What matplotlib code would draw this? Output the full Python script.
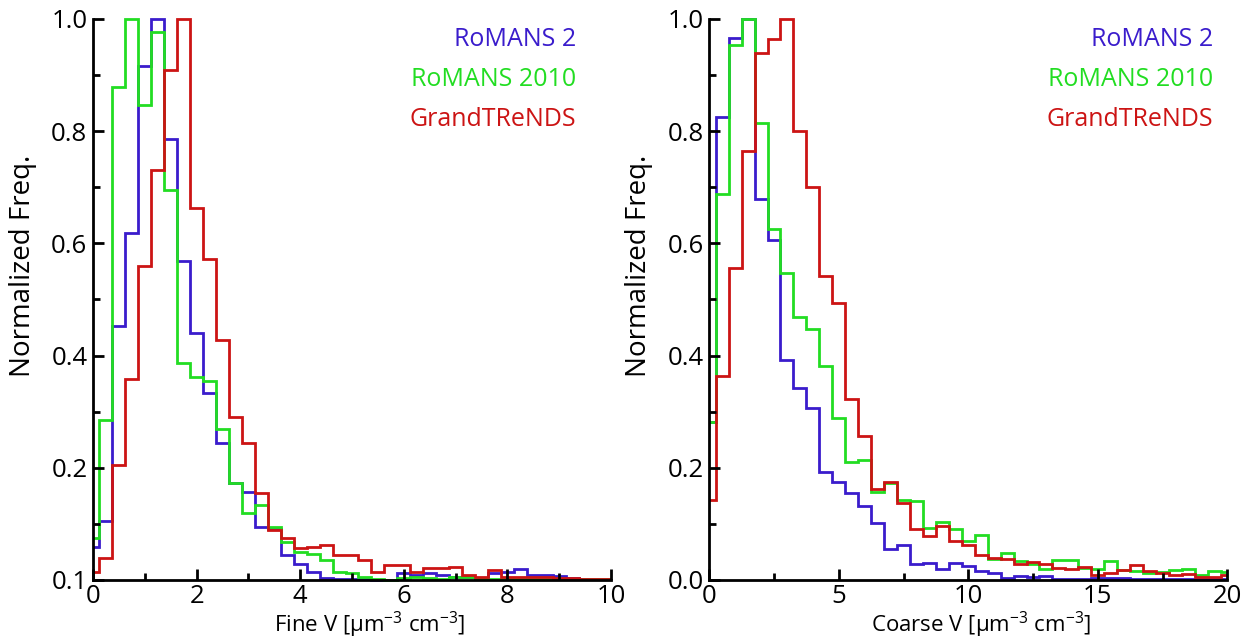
import numpy as np
import matplotlib.pyplot as plt
import matplotlib.ticker as ticker

plt.rcParams['font.family'] = ['Open Sans', 'DejaVu Sans']
plt.rcParams['mathtext.default'] = 'regular'

# --- data: normalized histogram values, one per bin (bins centred on 0, w, 2w, ...)
fine_bin_width = 0.25
fine_blue = [0.059, 0.106, 0.452, 0.618, 0.916, 1.0, 0.786, 0.569, 0.440, 0.334,
             0.245, 0.172, 0.156, 0.095, 0.090, 0.045, 0.029, 0.015, 0.003, 0.002,
             0.002, 0.001, 0.0, 0.0, 0.012, 0.009, 0.012, 0.009, 0.006, 0.006,
             0.003, 0.012, 0.015, 0.019, 0.009, 0.009, 0.007, 0.003, 0.001, 0.001, 0.001]
fine_green = [0.074, 0.285, 0.879, 1.0, 0.847, 0.977, 0.696, 0.386, 0.361, 0.354,
              0.270, 0.172, 0.120, 0.134, 0.095, 0.068, 0.050, 0.047, 0.036, 0.015,
              0.012, 0.006, 0.002, 0.0, 0.003, 0.006, 0.003, 0.002, 0.006, 0.006,
              0.001, 0.001, 0.001, 0.001, 0.001, 0.001, 0.001, 0.001, 0.001, 0.002, 0.002]
fine_red = [0.015, 0.040, 0.205, 0.359, 0.560, 0.730, 0.909, 1.0, 0.663, 0.572,
            0.428, 0.290, 0.244, 0.155, 0.089, 0.074, 0.057, 0.058, 0.062, 0.045,
            0.045, 0.036, 0.015, 0.027, 0.027, 0.015, 0.021, 0.021, 0.024, 0.008,
            0.005, 0.018, 0.006, 0.006, 0.005, 0.005, 0.004, 0.003, 0.002, 0.002, 0.002]

coarse_bin_width = 0.5
coarse_blue = [0.281, 0.825, 0.966, 1.0, 0.679, 0.606, 0.393, 0.343, 0.306, 0.193,
               0.174, 0.155, 0.132, 0.101, 0.055, 0.062, 0.029, 0.030, 0.019, 0.030,
               0.025, 0.016, 0.012, 0.004, 0.007, 0.005, 0.007, 0.001, 0.001, 0.002,
               0.003, 0.003, 0.003, 0.002, 0.002, 0.001, 0.002, 0.002, 0.001, 0.001, 0.001]
coarse_green = [0.282, 0.688, 0.954, 1.0, 0.814, 0.625, 0.548, 0.468, 0.447, 0.381,
                0.288, 0.211, 0.213, 0.157, 0.173, 0.143, 0.141, 0.092, 0.103, 0.090,
                0.070, 0.080, 0.037, 0.048, 0.034, 0.028, 0.019, 0.035, 0.035, 0.022,
                0.020, 0.033, 0.018, 0.016, 0.013, 0.014, 0.018, 0.019, 0.008, 0.016, 0.015]
coarse_red = [0.143, 0.364, 0.556, 0.765, 0.939, 0.964, 1.0, 0.801, 0.700, 0.541,
              0.494, 0.322, 0.257, 0.163, 0.175, 0.138, 0.090, 0.078, 0.096, 0.070,
              0.062, 0.044, 0.040, 0.037, 0.028, 0.032, 0.028, 0.022, 0.019, 0.023,
              0.008, 0.013, 0.017, 0.026, 0.016, 0.012, 0.008, 0.010, 0.006, 0.006, 0.008]

series_names = ["RoMANS 2", "RoMANS 2010", "GrandTReNDS"]
series_colors = ["#3a1ccc", "#22dd22", "#cc1414"]

fine_yticklabels = ["0.1", "0.2", "0.4", "0.6", "0.8", "1.0"]
coarse_yticklabels = ["0.0", "0.2", "0.4", "0.6", "0.8", "1.0"]
yticks = [0.0, 0.2, 0.4, 0.6, 0.8, 1.0]


def centred_edges(n_bins, width, x_max):
    # bins centred on multiples of width, first/last clipped to the axis range
    edges = [0.0] + [width / 2 + width * k for k in range(n_bins - 1)] + [x_max]
    return np.array(edges)


def style_axis(ax, x_max, x_major, x_minor, yticklabels, xlabel, xlabel_x):
    for side in ("top", "right"):
        ax.spines[side].set_visible(False)
    for side in ("left", "bottom"):
        ax.spines[side].set_linewidth(2)
    ax.set_xlim(0, x_max)
    ax.set_ylim(0, 1.0)
    ax.xaxis.set_major_locator(ticker.MultipleLocator(x_major))
    ax.xaxis.set_minor_locator(ticker.MultipleLocator(x_minor))
    ax.yaxis.set_minor_locator(ticker.MultipleLocator(0.1))
    ax.set_yticks(yticks)
    ax.set_yticklabels(yticklabels)
    ax.tick_params(which="major", direction="in", length=8, width=2, labelsize=18.5)
    ax.tick_params(which="minor", direction="in", length=5, width=2)
    ax.tick_params(axis="x", pad=3)
    ax.tick_params(axis="y", pad=4)
    ax.set_xlabel(xlabel, fontsize=16)
    ax.xaxis.set_label_coords(xlabel_x, -0.0535)
    ax.set_ylabel("Normalized Freq.", fontsize=20)
    ax.yaxis.set_label_coords(-0.108, 0.56)


fig = plt.figure(figsize=(12.48, 6.41), dpi=100)
ax_fine = fig.add_axes([0.0745, 0.0952, 0.4151, 0.8752])
ax_coarse = fig.add_axes([0.5683, 0.0952, 0.4151, 0.8752])

# --- Fine mode
fine_edges = centred_edges(len(fine_blue), fine_bin_width, 10)
for vals, col in zip([fine_blue, fine_green, fine_red], series_colors):
    ax_fine.stairs(vals, fine_edges, baseline=None, color=col, linewidth=2, clip_on=False)
style_axis(ax_fine, 10, 2, 1, fine_yticklabels, r"Fine V [µm$^{-3}$ cm$^{-3}$]", 0.535)

# --- Coarse mode
coarse_edges = centred_edges(len(coarse_blue), coarse_bin_width, 20)
for vals, col in zip([coarse_blue, coarse_green, coarse_red], series_colors):
    ax_coarse.stairs(vals, coarse_edges, baseline=None, color=col, linewidth=2, clip_on=False)
style_axis(ax_coarse, 20, 5, 2.5, coarse_yticklabels, r"Coarse V [µm$^{-3}$ cm$^{-3}$]", 0.525)

# --- Legend as coloured text
for ax, x_right in [(ax_fine, 0.932), (ax_coarse, 0.972)]:
    for i, (name, col) in enumerate(zip(series_names, series_colors)):
        ax.text(x_right, 0.963 - i * 0.071, name, color=col, fontsize=18,
                ha="right", va="center", transform=ax.transAxes)

fig.savefig("out.png", dpi=100)
